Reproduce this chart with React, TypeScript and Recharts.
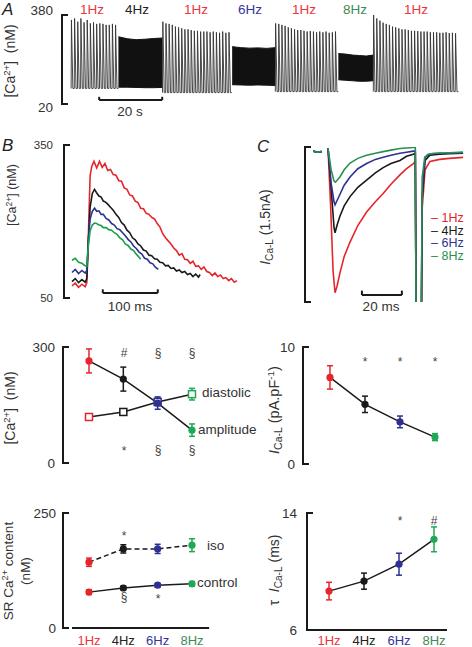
import React from 'react';
import {
  ComposedChart,
  Line,
  Area,
  Scatter,
  ErrorBar,
  XAxis,
  YAxis,
  ReferenceLine,
} from 'recharts';

// ---- colours ----
const RED = '#e4262c';
const BLACK = '#1a1a1a';
const BLUE = '#2e3192';
const GREEN = '#1fa855';
const FONT = '"Liberation Sans", Arial, Helvetica, sans-serif';

// ---- panel A: 1 Hz beat peaks (nM) and high-rate band edges ----
const aSegStarts = [0, 29, 64.8, 95.9]; // s
const aBaselines = [83, 66, 70, 70];
const aPeaks1 = [360, 366, 353, 366, 350, 360, 346, 350, 344, 346, 344, 340, 340, 344, 340];
const aPeaks3 = [353, 346, 344, 340, 333, 330, 326, 322, 322, 319, 316, 316, 313, 313, 313, 310, 313, 310, 308, 313, 308, 310];
const aPeaks5 = [346, 344, 340, 336, 330, 326, 322, 319, 319, 316, 313, 315, 313, 310, 313, 310, 313, 308, 310, 313];
const aPeaks7 = [380, 366, 357, 349, 344, 340, 333, 330, 326, 322, 322, 319, 316, 316, 315, 313, 313, 313, 310, 310, 310, 308, 308, 310, 307, 308, 306];
const aBandStarts = [15, 51.1, 84.8];
const aBandEnds = [29, 64.8, 95.9];
const band4Top = [292, 284, 280, 282, 285, 287];
const band4Low = [88, 88, 87, 86, 86, 87];
const band6Top = [252, 248, 246, 247, 245, 248];
const band6Low = [98, 97, 96, 97, 96, 95];
const band8Top = [224, 222, 218, 216, 214, 218];
const band8Low = [118, 116, 114, 112, 112, 114];
const aRateLabels = ['1Hz', '4Hz', '1Hz', '6Hz', '1Hz', '8Hz', '1Hz'];

// ---- panel B: transients [ms, nM] ----
const bRed: [number, number][] = [[0,74],[6,79],[12,71],[18,77],[24,72],[27,80],[30,180],[33,290],[36,308],[40,318],[45,305],[50,318],[55,306],[60,314],[65,300],[70,302],[75,292],[80,291],[85,280],[90,279],[95,266],[100,263],[105,252],[110,250],[115,240],[120,237],[125,226],[130,225],[135,216],[140,214],[145,208],[150,205],[155,196],[160,189],[165,176],[170,168],[175,162],[180,156],[185,148],[190,143],[195,134],[200,137],[205,126],[210,125],[215,118],[220,122],[225,112],[230,113],[235,106],[240,111],[245,102],[250,100],[255,94],[260,99],[265,92],[270,95],[275,88],[280,90],[285,84],[290,88],[295,81],[300,84]];
const bBlack: [number, number][] = [[0,82],[6,88],[12,80],[18,86],[24,81],[27,88],[30,165],[33,228],[37,255],[41,263],[45,256],[49,250],[53,248],[57,240],[61,238],[65,234],[70,228],[75,222],[80,214],[85,208],[90,198],[95,193],[100,183],[105,178],[110,168],[115,164],[120,156],[125,152],[130,144],[135,142],[140,134],[145,133],[150,127],[155,126],[160,120],[165,119],[170,113],[175,114],[180,108],[185,109],[190,103],[195,105],[200,100],[205,102],[210,96],[215,98],[220,92],[225,97],[230,91],[233,96]];
const bBlue: [number, number][] = [[0,100],[6,106],[12,98],[18,104],[24,99],[27,104],[30,168],[33,205],[37,220],[41,226],[45,220],[49,221],[53,214],[57,214],[62,206],[67,203],[72,196],[77,193],[82,186],[87,184],[92,178],[97,172],[102,165],[107,160],[112,152],[117,147],[122,140],[127,136],[132,128],[137,126],[142,119],[147,117],[152,110],[157,106]];
const bGreen: [number, number][] = [[0,124],[6,128],[12,120],[18,118],[24,113],[27,112],[30,155],[33,182],[37,193],[41,197],[45,196],[49,193],[53,192],[57,188],[62,188],[67,184],[72,183],[77,178],[82,175],[87,168],[92,164],[97,156],[102,153],[107,146],[112,143],[117,136],[122,130],[125,126]];

// ---- panel C: I_Ca-L traces [ms, nA]; null = blanked ----
const cRed: [number, number | null][] = [[0.2,-0.04],[2,-0.05],[4.5,-0.045],[6,null],[7.7,-0.01],[9,-0.55],[10.3,-1.2],[11.3,-1.41],[12.3,-1.35],[13.8,-1.22],[16,-1.06],[19,-0.92],[23,-0.76],[27.5,-0.63],[32,-0.53],[36,-0.45],[40,-0.36],[44.6,-0.27],[48,-0.21],[51.5,-0.16],[52.5,-0.14],[53.2,-3],[55.2,-3],[56,-0.6],[57.5,-0.22],[60,-0.14],[65,-0.12],[70,-0.11],[77,-0.1]];
const cBlack: [number, number | null][] = [[0.2,-0.04],[2,-0.05],[4.5,-0.045],[6,null],[7.7,-0.01],[9.5,-0.45],[10.8,-0.78],[11.3,-0.83],[12.3,-0.76],[13.8,-0.67],[16,-0.57],[19,-0.48],[23,-0.39],[27.5,-0.32],[32,-0.25],[36,-0.2],[40,-0.16],[44.6,-0.13],[48,-0.09],[51.5,-0.07],[52.5,-0.06],[53.2,-3],[55.2,-3],[56,-0.5],[57.5,-0.13],[60,-0.08],[65,-0.07],[70,-0.065],[77,-0.06]];
const cBlue: [number, number | null][] = [[0.2,-0.04],[2,-0.05],[4.5,-0.045],[6,null],[7.7,-0.01],[9.3,-0.35],[10.8,-0.53],[11.3,-0.56],[12.3,-0.52],[13.8,-0.46],[16,-0.37],[19,-0.29],[23,-0.21],[27.5,-0.16],[32,-0.12],[36,-0.1],[40,-0.08],[44.6,-0.06],[48,-0.05],[51.5,-0.04],[52.5,-0.04],[53.2,-3],[55.2,-3],[56,-0.45],[57.5,-0.1],[60,-0.07],[65,-0.06],[70,-0.06],[77,-0.055]];
const cGreen: [number, number | null][] = [[0.2,-0.04],[2,-0.05],[4.5,-0.045],[6,null],[7.7,-0.01],[9.3,-0.22],[10.8,-0.33],[11.5,-0.34],[12.5,-0.32],[13.8,-0.29],[16,-0.22],[19,-0.155],[23,-0.11],[27.5,-0.08],[32,-0.06],[36,-0.045],[40,-0.03],[44.6,-0.015],[48,-0.01],[51.5,-0.005],[52.5,-0.005],[53.2,-3],[55.2,-3],[56,-0.3],[57.3,-0.1],[59,-0.07],[62,-0.06],[70,-0.055],[77,-0.05]];
const cLegend = ['1Hz', '4Hz', '6Hz', '8Hz'];

// ---- summary panels ----
const freqLabels = ['1Hz', '4Hz', '6Hz', '8Hz'];
const freqIndex = [1, 2, 3, 4];
const amplitude = [264, 217, 155, 85];
const amplitudeErr = [31, 31, 16, 16];
const diastolic = [119, 132, 158, 178];
const diastolicErr = [6, 8, 10, 15];
const icaPeak = [7.4, 5.1, 3.6, 2.3];
const icaPeakErr = [1.0, 0.7, 0.5, 0.3];
const srIso = [143, 172, 172, 180];
const srIsoErr = [9, 9, 10, 14];
const srControl = [78, 87, 93, 96];
const srControlErr = [5, 4, 4, 5];
const tauIca = [8.66, 9.34, 10.5, 12.2];
const tauIcaErr = [0.6, 0.55, 0.75, 0.85];

const markColors = [RED, BLACK, BLUE, GREEN];
const traceColors = [RED, BLACK, BLUE, '#2b8f4e'];
const labelColors = ['#e8383d', '#222', '#3535a0', '#3f8a58'];
const AXIS = { stroke: BLACK, strokeWidth: 2 };

const spikeTrace = (start: number, base: number, peaks: number[]) =>
  peaks
    .flatMap((p, i) => [
      { t: start + i, v: base },
      { t: start + i + 0.1, v: p },
      { t: start + i + 0.55, v: base },
    ])
    .concat([{ t: start + peaks.length, v: base }]);

const bandTrace = (start: number, end: number, low: number[], top: number[]) =>
  low.map((l, i) => ({ t: start + (i * (end - start)) / (low.length - 1), range: [l, top[i]] }));

const toPts = (tr: [number, number | null][]) => tr.map(([t, v]) => ({ t, v }));
const summary = (vals: number[], errs: number[]) =>
  vals.map((y, i) => ({ x: freqIndex[i], y, err: errs[i] }));

function bracketTick(gap: number, size: number, shift: Record<number, number> = {}, show = true) {
  return (p: any) => {
    const v = p.payload.value;
    return (
      <g>
        <line x1={p.x - 1} x2={p.x + 6} y1={p.y} y2={p.y} stroke={BLACK} strokeWidth={2} />
        {show && (
          <text x={p.x - gap} y={p.y + (shift[v] ?? 0)} dy="0.36em" textAnchor="end" fontSize={size} fill="#333">
            {v}
          </text>
        )}
      </g>
    );
  };
}

const freqTick = (offset: number) => (p: any) => {
  const i = freqIndex.indexOf(p.payload.value);
  return (
    <text x={p.x} y={p.y + offset} dy="0.36em" textAnchor="middle" fontSize={13} fill={labelColors[i]}>
      {freqLabels[i]}
    </text>
  );
};

const dotShape = (color: string, r = 3.6) => (p: any) => <circle cx={p.cx} cy={p.cy} r={r} fill={color} />;
const squareShape = (color: string) => (p: any) => (
  <rect x={p.cx - 3.5} y={p.cy - 3.5} width={7} height={7} fill="#fff" stroke={color} strokeWidth={1.5} />
);

function Txt({ x, y, size = 13.5, color = '#333', anchor = 'middle', italic = false, children }: any) {
  const tx = anchor === 'middle' ? '-50%' : anchor === 'end' ? '-100%' : '0';
  return (
    <div
      style={{
        position: 'absolute',
        left: x,
        top: y,
        transform: `translate(${tx}, -50%)`,
        fontSize: size,
        color,
        whiteSpace: 'nowrap',
        lineHeight: 1,
        fontStyle: italic ? 'italic' : 'normal',
      }}
    >
      {children}
    </div>
  );
}

function VLabel({ x, y, size = 14, children }: any) {
  return (
    <div
      style={{
        position: 'absolute',
        left: x,
        top: y,
        transform: 'translate(-50%, -50%) rotate(-90deg)',
        fontSize: size,
        color: '#333',
        whiteSpace: 'nowrap',
        lineHeight: 1.25,
        textAlign: 'center',
      }}
    >
      {children}
    </div>
  );
}

const Box = ({ left, top, children }: any) => (
  <div style={{ position: 'absolute', left, top }}>{children}</div>
);

const sup = { fontSize: '0.68em', verticalAlign: '0.55em', lineHeight: 0 } as const;
const sub = { fontSize: '0.72em', verticalAlign: '-0.3em', lineHeight: 0 } as const;
const Ica = () => (
  <>
    <i>I</i>
    <span style={sub}>Ca-L</span>
  </>
);

function ErrScatter({ data, colors, shape }: any) {
  return data.map((p: any, i: number) => (
    <Scatter key={i} data={[p]} dataKey="y" shape={shape(colors[i])} isAnimationActive={false}>
      <ErrorBar dataKey="err" direction="y" width={3} stroke={colors[i]} strokeWidth={1.5} />
    </Scatter>
  ));
}

export default function App() {
  const aSegments = [aPeaks1, aPeaks3, aPeaks5, aPeaks7].map((pk, i) => spikeTrace(aSegStarts[i], aBaselines[i], pk));
  const aBands = [
    [band4Low, band4Top],
    [band6Low, band6Top],
    [band8Low, band8Top],
  ].map(([lo, hi], i) => bandTrace(aBandStarts[i], aBandEnds[i], lo, hi));
  const bTraces = [bRed, bBlack, bBlue, bGreen].map(toPts);
  const cTraces = [cRed, cBlack, cBlue, cGreen].map(toPts);

  const ampPts = summary(amplitude, amplitudeErr);
  const diaPts = summary(diastolic, diastolicErr);
  const icaPts = summary(icaPeak, icaPeakErr);
  const isoPts = summary(srIso, srIsoErr);
  const ctlPts = summary(srControl, srControlErr);
  const tauPts = summary(tauIca, tauIcaErr);

  const aLabelX = [92, 137, 196, 250, 304, 355, 416];
  const aLabelColor = [labelColors[0], labelColors[1], labelColors[0], labelColors[2], labelColors[0], labelColors[3], labelColors[0]];

  return (
    <div
      style={{
        position: 'absolute',
        left: 0,
        top: 0,
        width: 472,
        height: 647,
        overflow: 'hidden',
        background: '#fff',
        fontFamily: FONT,
      }}
    >
      <style>{'.recharts-wrapper svg { overflow: visible; }'}</style>

      {/* ---------- A ---------- */}
      <Box left={22} top={0}>
        <ComposedChart width={443} height={116} margin={{ top: 15, right: 0, bottom: 12, left: 0 }}>
          <XAxis type="number" dataKey="t" domain={[-2.9, 125]} hide />
          <YAxis
            type="number"
            domain={[20, 380]}
            ticks={[20, 380]}
            interval={0}
            width={40}
            axisLine={AXIS}
            tickLine={false}
            tickSize={0}
            tickMargin={0}
            tick={bracketTick(9, 13.5, { 380: -5, 20: 3 })}
          />
          {aBands.map((d, i) => (
            <Area key={`b${i}`} data={d} dataKey="range" type="linear" stroke="#111" strokeWidth={1} fill="#111" fillOpacity={1} isAnimationActive={false} />
          ))}
          {aSegments.map((d, i) => (
            <Line key={`s${i}`} data={d} dataKey="v" type="linear" stroke="#333" strokeWidth={0.9} dot={false} isAnimationActive={false} />
          ))}
          <ReferenceLine segment={[{ x: 8.9, y: 36 }, { x: 28.9, y: 36 }]} stroke={BLACK} strokeWidth={2} ifOverflow="visible" />
          <ReferenceLine segment={[{ x: 8.9, y: 36 }, { x: 8.9, y: 49 }]} stroke={BLACK} strokeWidth={2} ifOverflow="visible" />
          <ReferenceLine segment={[{ x: 28.9, y: 36 }, { x: 28.9, y: 49 }]} stroke={BLACK} strokeWidth={2} ifOverflow="visible" />
        </ComposedChart>
      </Box>
      <Txt x={2} y={9} size={17} anchor="start" italic color="#222">A</Txt>
      <VLabel x={11} y={61} size={14}>
        [Ca<span style={sup}>2+</span>]&nbsp;&nbsp;(nM)
      </VLabel>
      {aRateLabels.map((l, i) => (
        <Txt key={i} x={aLabelX[i]} y={10} color={aLabelColor[i]}>
          {l}
        </Txt>
      ))}
      <Txt x={130} y={112}>20 s</Txt>

      {/* ---------- B ---------- */}
      <Box left={24} top={135}>
        <ComposedChart width={216} height={173} margin={{ top: 10, right: 0, bottom: 10, left: 0 }}>
          <XAxis type="number" dataKey="t" domain={[-14.5, 305.5]} hide />
          <YAxis
            type="number"
            domain={[50, 350]}
            ticks={[50, 350]}
            interval={0}
            width={40}
            axisLine={AXIS}
            tickLine={false}
            tickSize={0}
            tickMargin={0}
            tick={bracketTick(11, 11.5)}
          />
          {bTraces.map((d, i) => (
            <Line key={i} data={d} dataKey="v" type="linear" stroke={[RED, BLACK, BLUE, '#15a04a'][i]} strokeWidth={1.6} dot={false} isAnimationActive={false} />
          ))}
          <ReferenceLine segment={[{ x: 56, y: 60 }, { x: 156, y: 60 }]} stroke={BLACK} strokeWidth={2} ifOverflow="visible" />
          <ReferenceLine segment={[{ x: 56, y: 60 }, { x: 56, y: 67 }]} stroke={BLACK} strokeWidth={2} ifOverflow="visible" />
          <ReferenceLine segment={[{ x: 156, y: 60 }, { x: 156, y: 67 }]} stroke={BLACK} strokeWidth={2} ifOverflow="visible" />
        </ComposedChart>
      </Box>
      <Txt x={2} y={145} size={17} anchor="start" italic color="#222">B</Txt>
      <VLabel x={13} y={195} size={12.5}>
        [Ca<span style={sup}>2+</span>] (nM)
      </VLabel>
      <Txt x={130} y={307}>100 ms</Txt>

      {/* ---------- C ---------- */}
      <Box left={265} top={137}>
        <ComposedChart width={201} height={171} margin={{ top: 10, right: 0, bottom: 6, left: 0 }}>
          <XAxis type="number" dataKey="t" domain={[-4.1, 78.5]} hide />
          <YAxis
            type="number"
            domain={[-1.5, 0]}
            ticks={[-1.5, 0]}
            interval={0}
            allowDataOverflow
            width={40}
            axisLine={AXIS}
            tickLine={false}
            tickSize={0}
            tickMargin={0}
            tick={bracketTick(8, 12, {}, false)}
          />
          {cTraces.map((d, i) => (
            <Line key={i} data={d} dataKey="v" type="linear" stroke={traceColors[i]} strokeWidth={1.6} dot={false} connectNulls={false} isAnimationActive={false} />
          ))}
          <ReferenceLine segment={[{ x: 25.1, y: -1.432 }, { x: 45.6, y: -1.432 }]} stroke={BLACK} strokeWidth={2} ifOverflow="visible" />
          <ReferenceLine segment={[{ x: 25.1, y: -1.432 }, { x: 25.1, y: -1.39 }]} stroke={BLACK} strokeWidth={2} ifOverflow="visible" />
          <ReferenceLine segment={[{ x: 45.6, y: -1.432 }, { x: 45.6, y: -1.39 }]} stroke={BLACK} strokeWidth={2} ifOverflow="visible" />
        </ComposedChart>
      </Box>
      <Txt x={257} y={146} size={17} anchor="start" italic color="#222">C</Txt>
      <VLabel x={266} y={227} size={14}>
        <Ica /> (1.5nA)
      </VLabel>
      <Txt x={381} y={307}>20 ms</Txt>
      {cLegend.map((l, i) => (
        <Txt key={l} x={431} y={218 + i * 12.5} size={12.5} anchor="start" color={traceColors[i]}>
          – {l}
        </Txt>
      ))}

      {/* ---------- middle left: amplitude / diastolic ---------- */}
      <Box left={23} top={337}>
        <ComposedChart width={203} height={136} margin={{ top: 10, right: 0, bottom: 10, left: 0 }}>
          <XAxis type="number" dataKey="x" domain={[0.243, 4.991]} ticks={freqIndex} hide />
          <YAxis
            type="number"
            domain={[0, 300]}
            ticks={[0, 300]}
            interval={0}
            width={40}
            axisLine={AXIS}
            tickLine={false}
            tickSize={0}
            tickMargin={0}
            tick={bracketTick(8, 13.5)}
          />
          <Line data={diaPts} dataKey="y" type="linear" stroke={BLACK} strokeWidth={1.5} dot={false} isAnimationActive={false} />
          <Line data={ampPts} dataKey="y" type="linear" stroke={BLACK} strokeWidth={1.5} dot={false} isAnimationActive={false} />
          {ErrScatter({ data: diaPts, colors: markColors, shape: squareShape })}
          {ErrScatter({ data: ampPts, colors: markColors, shape: (c: string) => dotShape(c) })}
        </ComposedChart>
      </Box>
      <VLabel x={11} y={408} size={14}>
        [Ca<span style={sup}>2+</span>]&nbsp;&nbsp;(nM)
      </VLabel>
      <Txt x={124} y={353} size={12} color="#444">#</Txt>
      <Txt x={158} y={353} size={12} color="#444">§</Txt>
      <Txt x={192} y={353} size={12} color="#444">§</Txt>
      <Txt x={124} y={451} size={12} color="#444">*</Txt>
      <Txt x={158} y={450} size={12} color="#444">§</Txt>
      <Txt x={192} y={450} size={12} color="#444">§</Txt>
      <Txt x={202} y={393} anchor="start">diastolic</Txt>
      <Txt x={198} y={430} anchor="start">amplitude</Txt>

      {/* ---------- middle right: I_Ca-L ---------- */}
      <Box left={263} top={337}>
        <ComposedChart width={200} height={137} margin={{ top: 10, right: 0, bottom: 10, left: 0 }}>
          <XAxis type="number" dataKey="x" domain={[0.229, 4.8]} ticks={freqIndex} hide />
          <YAxis
            type="number"
            domain={[0, 10]}
            ticks={[0, 10]}
            interval={0}
            width={40}
            axisLine={AXIS}
            tickLine={false}
            tickSize={0}
            tickMargin={0}
            tick={bracketTick(8, 13.5)}
          />
          <Line data={icaPts} dataKey="y" type="linear" stroke={BLACK} strokeWidth={1.5} dot={false} isAnimationActive={false} />
          {ErrScatter({ data: icaPts, colors: markColors, shape: (c: string) => dotShape(c) })}
        </ComposedChart>
      </Box>
      <VLabel x={274} y={410} size={14.5}>
        <Ica /> (pA.pF<span style={sup}>-1</span>)
      </VLabel>
      <Txt x={365} y={362} size={12} color="#444">*</Txt>
      <Txt x={400} y={362} size={12} color="#444">*</Txt>
      <Txt x={435} y={362} size={12} color="#444">*</Txt>

      {/* ---------- bottom left: SR content ---------- */}
      <Box left={23} top={503}>
        <ComposedChart width={203} height={143} margin={{ top: 10, right: 0, bottom: 0, left: 0 }}>
          <XAxis
            type="number"
            dataKey="x"
            domain={[0.243, 4.991]}
            ticks={freqIndex}
            interval={0}
            height={18}
            axisLine={false}
            tickLine={false}
            tickSize={0}
            tickMargin={0}
            tick={freqTick(12)}
          />
          <YAxis
            type="number"
            domain={[0, 250]}
            ticks={[0, 250]}
            interval={0}
            width={40}
            axisLine={AXIS}
            tickLine={false}
            tickSize={0}
            tickMargin={0}
            tick={bracketTick(7, 13.5)}
          />
          <ReferenceLine segment={[{ x: 0.505, y: 0 }, { x: 4.5, y: 0 }]} stroke={BLACK} strokeWidth={2} ifOverflow="visible" />
          <Line data={isoPts} dataKey="y" type="linear" stroke={BLACK} strokeWidth={1.5} strokeDasharray="5 3" dot={false} isAnimationActive={false} />
          <Line data={ctlPts} dataKey="y" type="linear" stroke={BLACK} strokeWidth={1.5} dot={false} isAnimationActive={false} />
          {ErrScatter({ data: isoPts, colors: markColors, shape: (c: string) => dotShape(c) })}
          {ErrScatter({ data: ctlPts, colors: markColors, shape: (c: string) => dotShape(c) })}
        </ComposedChart>
      </Box>
      <VLabel x={18} y={571} size={13.5}>
        SR Ca<span style={sup}>2+</span> content
        <br />
        (nM)
      </VLabel>
      <Txt x={124} y={536} size={12} color="#444">*</Txt>
      <Txt x={124} y={597} size={12} color="#444">§</Txt>
      <Txt x={158} y={599} size={12} color="#444">*</Txt>
      <Txt x={207} y={546} anchor="start">iso</Txt>
      <Txt x={197} y={583} anchor="start">control</Txt>

      {/* ---------- bottom right: tau ---------- */}
      <Box left={267} top={503}>
        <ComposedChart width={195} height={143} margin={{ top: 10, right: 0, bottom: 0, left: 0 }}>
          <XAxis
            type="number"
            dataKey="x"
            domain={[0.371, 4.8]}
            ticks={freqIndex}
            interval={0}
            height={16}
            axisLine={false}
            tickLine={false}
            tickSize={0}
            tickMargin={0}
            tick={freqTick(10)}
          />
          <YAxis
            type="number"
            domain={[6, 14]}
            ticks={[6, 14]}
            interval={0}
            width={40}
            axisLine={AXIS}
            tickLine={false}
            tickSize={0}
            tickMargin={0}
            tick={bracketTick(10, 13.5)}
          />
          <ReferenceLine segment={[{ x: 0.514, y: 6 }, { x: 4.371, y: 6 }]} stroke={BLACK} strokeWidth={2} ifOverflow="visible" />
          <Line data={tauPts} dataKey="y" type="linear" stroke={BLACK} strokeWidth={1.5} dot={false} isAnimationActive={false} />
          {ErrScatter({ data: tauPts, colors: markColors, shape: (c: string) => dotShape(c) })}
        </ComposedChart>
      </Box>
      <VLabel x={275} y={570} size={14}>
        τ&nbsp;&nbsp;<Ica /> (ms)
      </VLabel>
      <Txt x={400} y={521} size={12} color="#444">*</Txt>
      <Txt x={434} y={521} size={12} color="#444">#</Txt>
    </div>
  );
}
